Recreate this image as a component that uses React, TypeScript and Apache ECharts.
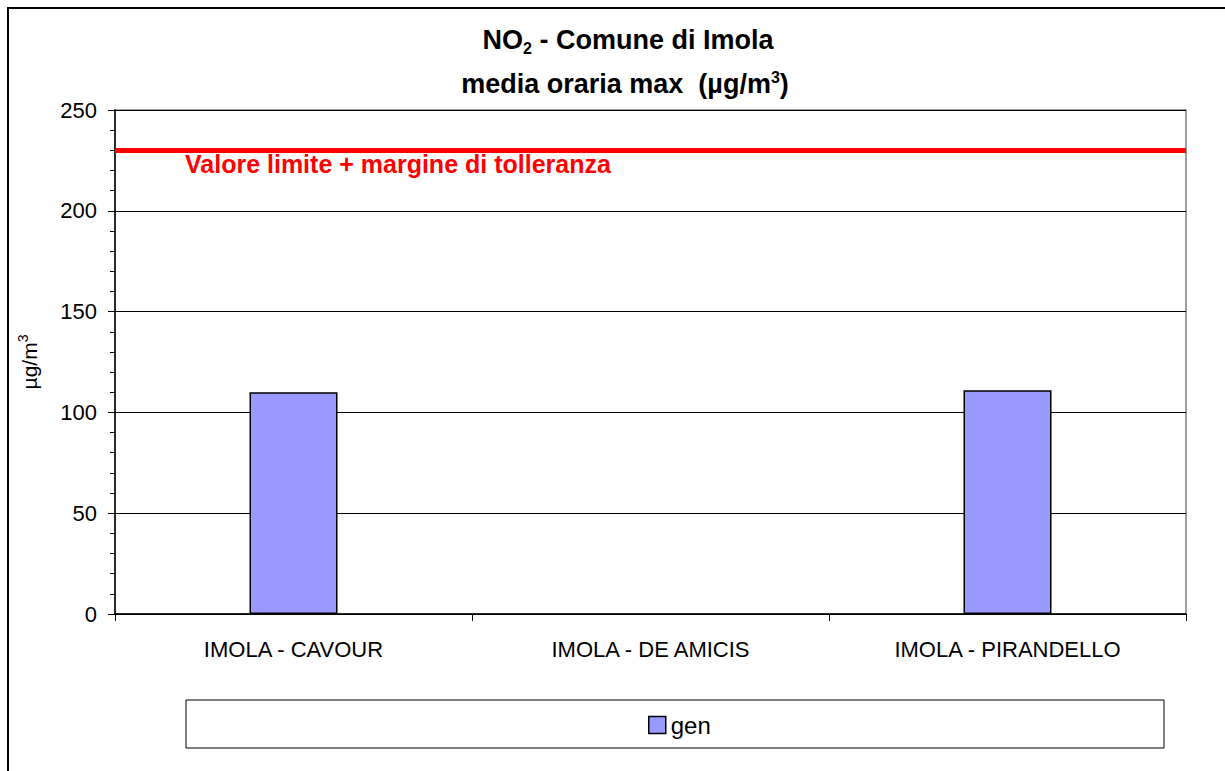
import React, { useEffect, useRef } from "react";
import * as echarts from "echarts";

const categories = ["IMOLA - CAVOUR", "IMOLA - DE AMICIS", "IMOLA - PIRANDELLO"];
const genValues: (number | null)[] = [110, null, 111];
const limitValue = 230;
const limitLabel = "Valore limite + margine di tolleranza";
const seriesName = "gen";

const FONT = "'Liberation Sans', Arial, sans-serif";

export default function App() {
  const ref = useRef<HTMLDivElement>(null);
  useEffect(() => {
    document.body.style.margin = "0";
    const chart = echarts.init(ref.current!, null, { renderer: "svg" });
    const rich = {
      b: { fontSize: 27, fontWeight: "bold", color: "#000", fontFamily: FONT },
      s: { fontSize: 16, fontWeight: "bold", color: "#000", padding: [16, 0, 0, 0], fontFamily: FONT },
      p: { fontSize: 16, fontWeight: "bold", color: "#000", padding: [0, 0, 14, 0], fontFamily: FONT },
    };
    chart.setOption({
      animation: false,
      backgroundColor: "#fff",
      textStyle: { fontFamily: FONT },
      legend: {
        data: [seriesName],
        left: 643,
        top: 708,
        icon: "rect",
        itemWidth: 17,
        itemHeight: 17,
        itemGap: 8,
        textStyle: { fontSize: 24, color: "#000", fontFamily: FONT },
        itemStyle: { borderColor: "#000", borderWidth: 1.5 },
      },
      grid: {
        left: 115,
        top: 110,
        width: 1071,
        height: 504,
        show: true,
        borderColor: "#808080",
        borderWidth: 1.5,
        backgroundColor: "#fff",
      },
      xAxis: {
        type: "category",
        data: categories,
        axisLine: { lineStyle: { color: "#000", width: 1.5 } },
        axisTick: { show: true, alignWithLabel: false, length: 7, lineStyle: { color: "#000" } },
        axisLabel: { fontSize: 22, color: "#000", margin: 24, fontFamily: FONT },
        splitLine: { show: false },
      },
      yAxis: {
        type: "value",
        min: 0,
        max: 250,
        interval: 50,
        name: "µg/m{sup|3}",
        nameLocation: "middle",
        nameRotate: 90,
        nameGap: 73,
        nameTextStyle: {
          fontSize: 21,
          color: "#000",
          fontFamily: FONT,
          rich: { sup: { fontSize: 14, color: "#000", padding: [0, 0, 12, 0], fontFamily: FONT } },
        },
        axisLine: { show: true, lineStyle: { color: "#000", width: 1.5 } },
        axisTick: { show: true, length: 7, lineStyle: { color: "#000" } },
        minorTick: { show: true, splitNumber: 5, length: 5, lineStyle: { color: "#000" } },
        axisLabel: { fontSize: 22, color: "#000", margin: 18, fontFamily: FONT },
        splitLine: { show: true, lineStyle: { color: "#000", width: 1 } },
      },
      series: [
        {
          name: seriesName,
          type: "bar",
          data: genValues,
          barWidth: 88,
          itemStyle: { color: "#9999ff", borderColor: "#000", borderWidth: 1.5 },
          markLine: {
            silent: true,
            symbol: "none",
            label: { show: false },
            lineStyle: { color: "#ff0000", width: 5, type: "solid" },
            data: [{ yAxis: limitValue }],
          },
        },
      ],
      graphic: [
        {
          type: "rect",
          shape: { x: 8, y: 8, width: 1240, height: 800 },
          style: { fill: "none", stroke: "#000", lineWidth: 2 },
          silent: true,
        },
        {
          type: "rect",
          shape: { x: 186, y: 700, width: 978, height: 48 },
          style: { fill: "none", stroke: "#000", lineWidth: 1 },
          silent: true,
          z: 0,
        },
        {
          type: "text",
          x: 628,
          y: 40,
          style: {
            text: "{b|NO}{s|2}{b| - Comune di Imola}",
            rich,
            align: "center",
            verticalAlign: "middle",
          },
        },
        {
          type: "text",
          x: 625,
          y: 84,
          style: {
            text: "{b|media oraria max  (µg/m}{p|3}{b|)}",
            rich,
            align: "center",
            verticalAlign: "middle",
          },
        },
        {
          type: "text",
          left: 185,
          top: 151,
          style: {
            text: limitLabel,
            fill: "#ff0000",
            font: `bold 25px ${FONT}`,
          },
        },
      ],
    });
    return () => chart.dispose();
  }, []);
  return <div ref={ref} style={{ width: 1225, height: 771 }} />;
}
